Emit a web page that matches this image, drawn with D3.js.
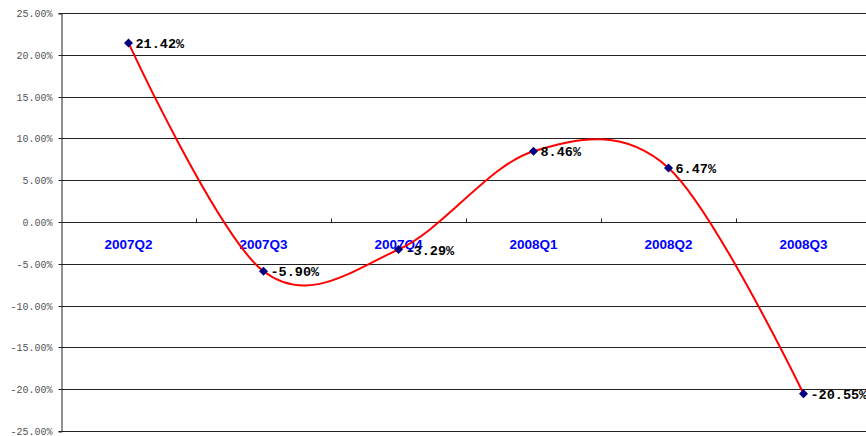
<!DOCTYPE html>
<html>
<head>
<meta charset="utf-8">
<script src="https://cdn.jsdelivr.net/npm/d3@7"></script>
<style>
  html, body { margin: 0; padding: 0; background: #fff; }
  svg { display: block; }
</style>
</head>
<body>
<svg id="chart" width="866" height="436"></svg>
<script>
// Quarterly growth rates (%)
const quarters = ["2007Q2", "2007Q3", "2007Q4", "2008Q1", "2008Q2", "2008Q3"];
const growth = [21.42, -5.90, -3.29, 8.46, 6.47, -20.55];
const yTicks = [25, 20, 15, 10, 5, 0, -5, -10, -15, -20, -25];

const svg = d3.select("#chart");
const W = 866;
const plotLeft = 61, plotTop = 13, plotBottom = 431;

const x = d3.scaleBand().domain(quarters).range([plotLeft, plotLeft + 135 * quarters.length]);
const y = d3.scaleLinear().domain([-25, 25]).range([plotBottom, plotTop]);

// Horizontal gridlines
svg.append("g").selectAll("line").data(yTicks).join("line")
  .attr("x1", plotLeft).attr("x2", W)
  .attr("y1", d => Math.round(y(d)) + 0.5).attr("y2", d => Math.round(y(d)) + 0.5)
  .attr("stroke", "#222").attr("stroke-width", 1);

// Value axis
const yAxis = svg.append("g")
  .attr("transform", `translate(${plotLeft + 0.5},0.5)`)
  .call(d3.axisLeft(y).tickValues(yTicks).tickSize(3).tickPadding(6)
    .tickFormat(d => d.toFixed(2) + "%"));
yAxis.select(".domain").attr("stroke", "#222");
yAxis.selectAll(".tick line").attr("stroke", "#222");
yAxis.selectAll("text")
  .attr("fill", "#555")
  .style("font-family", "'Liberation Mono', monospace")
  .style("font-size", "10px");
yAxis.selectAll(".tick").attr("transform", d => `translate(0,${Math.round(y(d))})`);

// Category axis along the zero line, ticks pointing up
const zeroY = Math.round(y(0)) + 0.5;
const boundaries = quarters.map(q => x(q)).slice(1).concat([x(quarters[quarters.length - 1]) + x.bandwidth()]);
svg.append("g").selectAll("line").data(boundaries).join("line")
  .attr("x1", d => Math.round(d) + 0.5).attr("x2", d => Math.round(d) + 0.5)
  .attr("y1", zeroY).attr("y2", zeroY - 4)
  .attr("stroke", "#222");

// Category labels
svg.append("g").selectAll("text").data(quarters).join("text")
  .attr("x", d => x(d) + x.bandwidth() / 2)
  .attr("y", 249)
  .attr("text-anchor", "middle")
  .attr("fill", "#0000ff")
  .style("font-family", "'Liberation Sans', Arial, sans-serif")
  .style("font-weight", "bold")
  .style("font-size", "13.5px")
  .text(d => d);

const pts = quarters.map((q, i) => [x(q) + x.bandwidth() / 2, y(growth[i])]);

// Smoothed line
svg.append("path")
  .attr("d", d3.line().curve(d3.curveCardinal.tension(0))(pts))
  .attr("fill", "none")
  .attr("stroke", "#ff0000")
  .attr("stroke-width", 2);

// Diamond markers
svg.append("g").selectAll("path").data(pts).join("path")
  .attr("d", d => `M${d[0]},${d[1] - 4.5}L${d[0] + 4.5},${d[1]}L${d[0]},${d[1] + 4.5}L${d[0] - 4.5},${d[1]}Z`)
  .attr("fill", "#000080");

// Value labels
svg.append("g").selectAll("text").data(pts).join("text")
  .attr("x", d => d[0] + 7)
  .attr("y", d => d[1] + 5)
  .attr("fill", "#000")
  .style("font-family", "'Liberation Mono', monospace")
  .style("font-weight", "bold")
  .style("font-size", "13.5px")
  .text((d, i) => growth[i].toFixed(2) + "%");
</script>
</body>
</html>
